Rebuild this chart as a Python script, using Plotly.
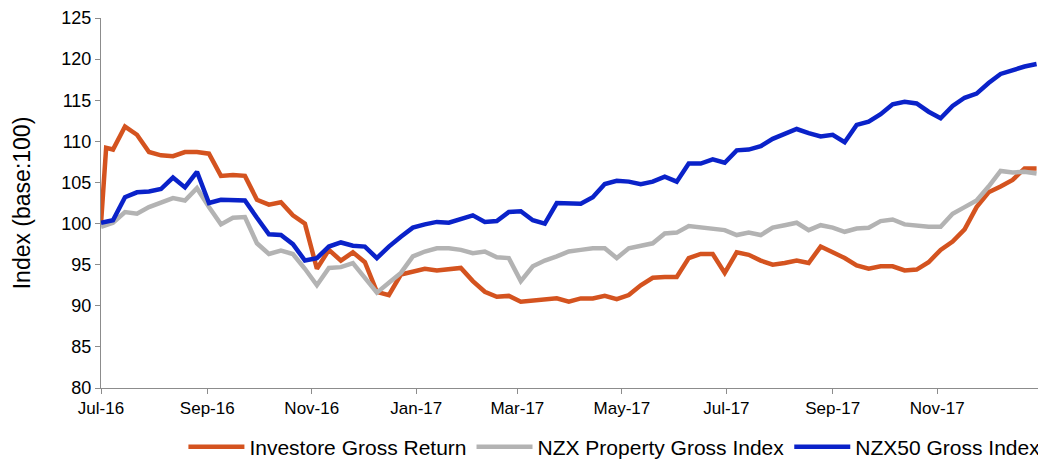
import pandas as pd
import plotly.graph_objects as go

# Dates: weekly from 2016-07-01 (with an extra early point to capture the listing jump)
dates = ["2016-07-01", "2016-07-04"] + [
    d.strftime("%Y-%m-%d") for d in pd.date_range("2016-07-08", periods=78, freq="7D")
]

investore = [100.0, 109.2,
    109.0, 111.8, 110.8, 108.7, 108.3, 108.2, 108.7, 108.7, 108.5, 105.8,
    105.9, 105.8, 102.9, 102.3, 102.6, 101.0, 100.0, 94.5, 96.8, 95.5,
    96.5, 95.3, 91.7, 91.3, 93.8, 94.2, 94.5, 94.3, 94.4, 94.6,
    93.0, 91.7, 91.1, 91.2, 90.5, 90.6, 90.8, 90.9, 90.5, 90.9,
    90.9, 91.2, 90.8, 91.3, 92.5, 93.4, 93.5, 93.5, 95.8, 96.3,
    96.3, 94.0, 96.5, 96.2, 95.5, 95.0, 95.2, 95.5, 95.2, 97.2,
    96.5, 95.8, 94.9, 94.5, 94.8, 94.8, 94.3, 94.4, 95.3, 96.8,
    97.8, 99.3, 102.0, 103.8, 104.5, 105.3, 106.7, 106.7]

nzx_property = [99.6, 99.8,
    100.1, 101.4, 101.2, 102.0, 102.5, 103.1, 102.8, 104.3, 102.0, 99.9,
    100.7, 100.8, 97.6, 96.3, 96.7, 96.3, 94.5, 92.5, 94.6, 94.7,
    95.2, 93.5, 91.6, 92.8, 94.0, 96.0, 96.6, 97.0, 97.0, 96.8,
    96.4, 96.6, 95.9, 95.8, 93.0, 94.8, 95.5, 96.0, 96.6, 96.8,
    97.0, 97.0, 95.8, 97.0, 97.3, 97.6, 98.8, 98.9, 99.7, 99.5,
    99.4, 99.2, 98.6, 98.9, 98.6, 99.5, 99.8, 100.1, 99.2, 99.8,
    99.5, 99.0, 99.4, 99.5, 100.3, 100.5, 99.9, 99.7, 99.6, 99.6,
    101.2, 102.0, 102.8, 104.5, 106.4, 106.2, 106.3, 106.1]

nzx50 = [100.1, 100.2,
    100.4, 103.2, 103.8, 103.9, 104.2, 105.6, 104.4, 106.3, 102.5, 102.9,
    102.8, 102.8, 100.7, 98.7, 98.6, 97.5, 95.5, 95.8, 97.2, 97.7,
    97.3, 97.2, 95.8, 97.2, 98.4, 99.5, 99.9, 100.2, 100.1, 100.5,
    101.0, 100.2, 100.3, 101.4, 101.5, 100.4, 100.0, 102.5, 102.5, 102.4,
    103.2, 104.8, 105.2, 105.1, 104.8, 105.1, 105.7, 105.1, 107.3, 107.3,
    107.8, 107.4, 108.9, 109.0, 109.4, 110.3, 110.9, 111.5, 111.0, 110.6,
    110.8, 109.9, 112.0, 112.4, 113.3, 114.5, 114.8, 114.6, 113.6, 112.8,
    114.3, 115.3, 115.8, 117.1, 118.2, 118.7, 119.1, 119.4]

tick_vals = ["2016-07-01", "2016-09-01", "2016-11-01", "2017-01-01", "2017-03-01",
             "2017-05-01", "2017-07-01", "2017-09-01", "2017-11-01"]
tick_text = ["Jul-16", "Sep-16", "Nov-16", "Jan-17", "Mar-17",
             "May-17", "Jul-17", "Sep-17", "Nov-17"]

series = [
    ("Investore Gross Return", investore, "#D4531F"),
    ("NZX Property Gross Index", nzx_property, "#B3B3B3"),
    ("NZX50 Gross Index", nzx50, "#0A22C9"),
]

fig = go.Figure()
for name, vals, color in series:
    fig.add_trace(go.Scatter(x=dates, y=vals, mode="lines", name=name,
                             line=dict(color=color, width=4.5)))

# the page body has an 8px margin, so the figure is sized to the remaining area
font_family = "Liberation Sans, Arial, sans-serif"
fig.update_layout(
    width=1038, height=455,
    margin=dict(l=93, r=6, t=10, b=75, autoexpand=False),
    paper_bgcolor="white", plot_bgcolor="white",
    font=dict(family=font_family, size=18, color="#000000"),
    showlegend=True,
    legend=dict(orientation="h", xref="container", yref="container",
                xanchor="left", x=0.169, yanchor="middle", y=0.035,
                font=dict(size=21), itemwidth=56, tracegroupgap=0,
                bgcolor="rgba(0,0,0,0)"),
    xaxis=dict(range=["2016-07-01", "2017-12-31"], tickvals=tick_vals, ticktext=tick_text,
               showgrid=False, zeroline=False, showline=True, linecolor="#8C8C8C",
               linewidth=1, ticks="outside", ticklen=5, tickcolor="#8C8C8C",
               tickfont=dict(size=17), automargin=False),
    yaxis=dict(range=[80, 125], tickvals=list(range(80, 126, 5)),
               showgrid=False, zeroline=False, showline=True, linecolor="#8C8C8C",
               linewidth=1, ticks="outside", ticklen=5, tickcolor="#8C8C8C",
               tickfont=dict(size=18), automargin=False,
               title=dict(text="Index (base:100)", font=dict(size=23), standoff=24)),
)

fig.write_html("out.html")
